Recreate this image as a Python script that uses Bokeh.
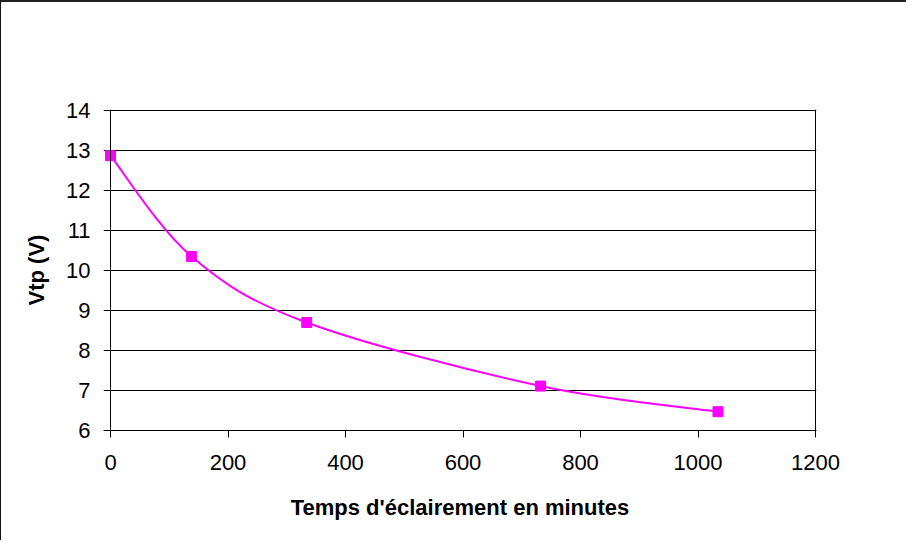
from bokeh.plotting import figure
from bokeh.models import Range1d, FixedTicker, ColumnDataSource, Span
from bokeh.embed import file_html
from bokeh.resources import INLINE

# --- data ---
temps = [0, 138, 334, 732, 1034]          # minutes
vtp = [12.87, 10.35, 8.70, 7.11, 6.47]    # volts
x_ticks = [0, 200, 400, 600, 800, 1000, 1200]
y_ticks = [6, 7, 8, 9, 10, 11, 12, 13, 14]
x_title = "Temps d'éclairement en minutes"
y_title = "Vtp (V)"

FONT = "Liberation Sans"
MAGENTA = "#FF00FF"

# layout: the frame is padded 7px on the left (so gridlines stick out like ticks
# and the first marker is not clipped) and 1px on the right/top.
W, H = 906, 540
X_MIN, X_MAX, Y_MIN, Y_MAX = 0, 1200, 6, 14
PLOT_W, PLOT_H = 705, 320              # pixel size of the 0..1200 x 6..14 area
PAD_L, PAD_R, PAD_T = 7, 1, 1
ux = (X_MAX - X_MIN) / PLOT_W
uy = (Y_MAX - Y_MIN) / PLOT_H
ML, MT, MB = 102, 107, 112
MR = W - ML - (PLOT_W + PAD_L + PAD_R)

p = figure(width=W, height=H, output_backend="svg", toolbar_location=None,
           x_range=Range1d(X_MIN - PAD_L * ux, X_MAX + PAD_R * ux),
           y_range=Range1d(Y_MIN, Y_MAX + PAD_T * uy),
           min_border_left=ML, min_border_right=MR, min_border_top=MT, min_border_bottom=MB)
p.styles = {"border-left": "1px solid #111", "border-top": "2px solid #222"}

p.background_fill_color = "white"
p.border_fill_color = "white"
p.outline_line_color = None

# grid
p.xgrid.grid_line_color = None
p.ygrid.grid_line_color = "black"
p.ygrid.grid_line_width = 1
p.ygrid.ticker = FixedTicker(ticks=y_ticks)

# axes
for ax in (p.xaxis[0], p.yaxis[0]):
    ax.axis_line_color = "black"
    ax.major_tick_line_color = "black"
    ax.major_tick_in = 0
    ax.major_tick_out = 7
    ax.minor_tick_line_color = None
    ax.major_label_text_font = FONT
    ax.major_label_text_font_size = "22px"
    ax.major_label_text_color = "black"
    ax.axis_label_text_font = FONT
    ax.axis_label_text_font_size = "22px"
    ax.axis_label_text_font_style = "bold"
    ax.axis_label_text_color = "black"

p.xaxis.ticker = FixedTicker(ticks=x_ticks)
p.yaxis.ticker = FixedTicker(ticks=y_ticks)
p.xaxis.axis_label = x_title
p.yaxis.axis_label = y_title
p.xaxis.major_label_standoff = 17
p.xaxis.axis_label_standoff = 22
# y axis: gridlines already stick out on the left; the axis line is drawn at x=0
p.yaxis.axis_line_color = None
p.yaxis.major_tick_line_color = None
p.yaxis.major_tick_out = 0
p.yaxis.major_label_standoff = 13
p.yaxis.axis_label_standoff = 14

p.add_layout(Span(location=X_MIN, dimension="height", line_color="black", line_width=1))
p.add_layout(Span(location=X_MAX, dimension="height", line_color="black", line_width=1))

# smoothed line (Catmull-Rom -> cubic Bezier, computed from the data points)
n = len(temps)
px = [temps[0]] + temps + [temps[-1]]
py = [vtp[0]] + vtp + [vtp[-1]]
x0, y0, x1, y1, cx0, cy0, cx1, cy1 = [], [], [], [], [], [], [], []
for i in range(n - 1):
    a, b, c, d = i, i + 1, i + 2, i + 3
    x0.append(px[b]); y0.append(py[b])
    x1.append(px[c]); y1.append(py[c])
    cx0.append(px[b] + (px[c] - px[a]) / 6.0)
    cy0.append(py[b] + (py[c] - py[a]) / 6.0)
    cx1.append(px[c] - (px[d] - px[b]) / 6.0)
    cy1.append(py[c] - (py[d] - py[b]) / 6.0)
bez = ColumnDataSource(dict(x0=x0, y0=y0, x1=x1, y1=y1, cx0=cx0, cy0=cy0, cx1=cx1, cy1=cy1))
p.bezier(x0="x0", y0="y0", x1="x1", y1="y1", cx0="cx0", cy0="cy0", cx1="cx1", cy1="cy1",
         source=bez, line_color=MAGENTA, line_width=2)

p.scatter(temps, vtp, marker="square", size=10, fill_color=MAGENTA, line_color=MAGENTA)

open("out.html", "w").write(file_html(p, INLINE))
